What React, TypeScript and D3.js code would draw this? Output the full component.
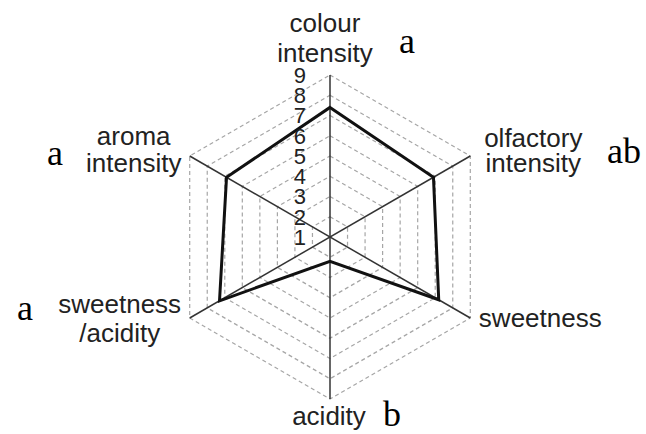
import React from "react";
import * as d3 from "d3";

// Sensory attributes, clockwise from the top
const attributes = [
  ["colour", "intensity"],
  ["olfactory", "intensity"],
  ["sweetness"],
  ["acidity"],
  ["sweetness", "/acidity"],
  ["aroma", "intensity"],
];
const scores = [7.4, 6.9, 7.2, 2.2, 7.3, 6.9];
const significance = ["a", "ab", "", "b", "a", "a"];
const tickValues = [1, 2, 3, 4, 5, 6, 7, 8, 9];

const W = 646;
const H = 434;
const cx = 330;
const cy = 237;
const R = 162;

// Label placement around each spoke: centre x offset, first baseline offset (relative to vertex)
const labelLayout = [
  { dx: -5, dy: -43, lh: 30 },
  { dx: 63, dy: -9, lh: 25 },
  { dx: 70, dy: 9, lh: 28 },
  { dx: -1, dy: 26, lh: 28 },
  { dx: -70, dy: -5, lh: 29 },
  { dx: -56, dy: -11, lh: 27 },
];
const letterLayout = [
  { x: 407, y: 53 },
  { x: 624, y: 163 },
  { x: 0, y: 0 },
  { x: 392, y: 426 },
  { x: 25, y: 320 },
  { x: 55, y: 165 },
];

export default function App() {
  const r = d3.scaleLinear().domain([1, 9]).range([0, R]);
  const n = attributes.length;
  const angle = (i: number) => (i * 2 * Math.PI) / n;
  const pt = (i: number, radius: number): [number, number] => [
    cx + radius * Math.sin(angle(i)),
    cy - radius * Math.cos(angle(i)),
  ];

  const ringLine = d3.line().curve(d3.curveLinearClosed);
  const rings = tickValues.slice(1).map((v) =>
    ringLine(d3.range(n).map((i) => pt(i, r(v))))
  );
  const series = ringLine(scores.map((v, i) => pt(i, r(v))));

  const font = "'Liberation Sans', Arial, sans-serif";
  const serif = "'Liberation Serif', 'Times New Roman', serif";

  return (
    <svg
      width={W}
      height={H}
      style={{ position: "fixed", left: 0, top: 0, background: "#fff" }}
    >
      <rect width={W} height={H} fill="#fff" />
      {rings.map((d, k) => (
        <path
          key={k}
          d={d!}
          fill="none"
          stroke="#a6a6a6"
          strokeWidth={1.2}
          strokeDasharray="4,3"
        />
      ))}
      {d3.range(n / 2).map((i) => {
        const [x1, y1] = pt(i, R);
        const [x2, y2] = pt(i + n / 2, R);
        return (
          <line
            key={i}
            x1={x1}
            y1={y1}
            x2={x2}
            y2={y2}
            stroke="#333"
            strokeWidth={1.5}
          />
        );
      })}
      <path d={series!} fill="none" stroke="#111" strokeWidth={3} strokeLinejoin="miter" />
      {tickValues.map((v) => (
        <text
          key={v}
          x={306}
          y={cy - r(v)}
          dy="0.36em"
          textAnchor="end"
          fontFamily={font}
          fontSize={22}
          fill="#222"
        >
          {v}
        </text>
      ))}
      {attributes.map((lines, i) => {
        const [vx, vy] = pt(i, R);
        const L = labelLayout[i];
        return (
          <text
            key={i}
            textAnchor="middle"
            fontFamily={font}
            fontSize={26}
            fill="#222"
          >
            {lines.map((s, j) => (
              <tspan key={j} x={vx + L.dx} y={vy + L.dy + j * L.lh}>
                {s}
              </tspan>
            ))}
          </text>
        );
      })}
      {significance.map((s, i) =>
        s ? (
          <text
            key={i}
            x={letterLayout[i].x}
            y={letterLayout[i].y}
            textAnchor="middle"
            fontFamily={serif}
            fontSize={36}
            fill="#000"
          >
            {s}
          </text>
        ) : null
      )}
    </svg>
  );
}
